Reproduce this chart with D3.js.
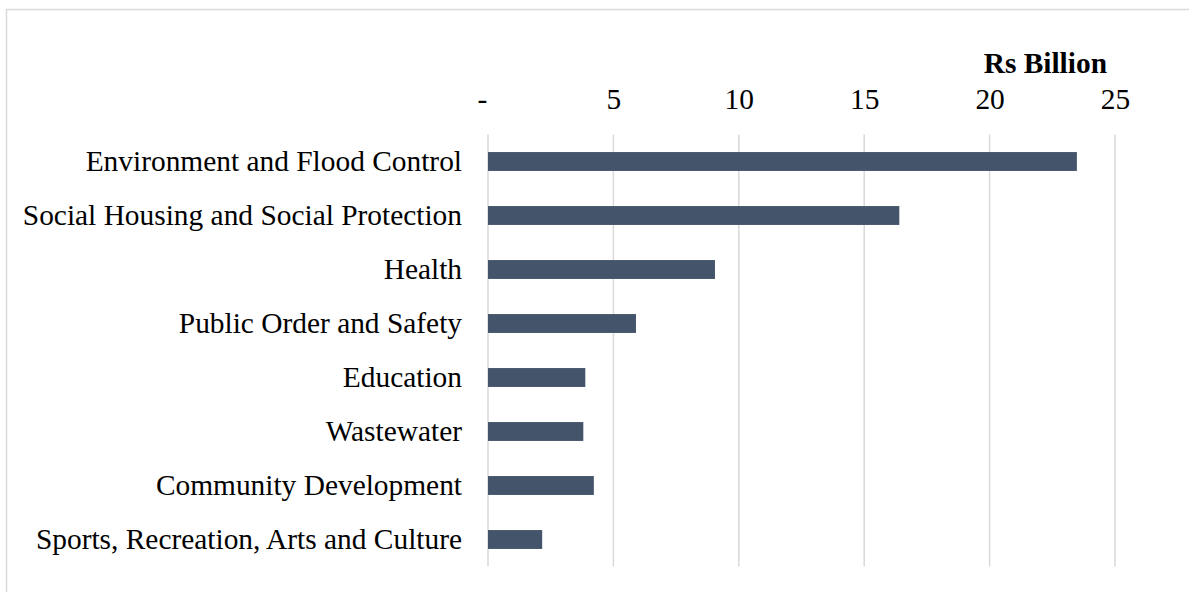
<!DOCTYPE html>
<html>
<head>
<meta charset="utf-8">
<script src="https://cdn.jsdelivr.net/npm/d3@7"></script>
<style>
  html, body { margin: 0; padding: 0; background: #fff; }
  svg { display: block; }
  text { font-family: "Liberation Serif", "Times New Roman", serif; fill: #000; }
</style>
</head>
<body>
<svg id="chart" width="1189" height="592"></svg>
<script>
const categories = [
  "Environment and Flood Control",
  "Social Housing and Social Protection",
  "Health",
  "Public Order and Safety",
  "Education",
  "Wastewater",
  "Community Development",
  "Sports, Recreation, Arts and Culture"
];
const values = [23.48, 16.4, 9.05, 5.9, 3.88, 3.8, 4.22, 2.16];
const tickValues = [0, 5, 10, 15, 20, 25];
const tickLabels = ["-", "5", "10", "15", "20", "25"];
const unitLabel = "Rs Billion";

const svg = d3.select("#chart");

// chart border
svg.append("rect")
  .attr("x", 6.5).attr("y", 9.5)
  .attr("width", 1200).attr("height", 600)
  .attr("fill", "none").attr("stroke", "#d9d9d9").attr("stroke-width", 1.5);

const x = d3.scaleLinear().domain([0, 25]).range([488, 1115]);
const y = d3.scaleBand().domain(categories).range([134.5, 566.5])
  .paddingInner(0.65).paddingOuter(0.325);

// gridlines
svg.append("g").selectAll("line").data(tickValues).join("line")
  .attr("x1", d => x(d)).attr("x2", d => x(d))
  .attr("y1", 134.5).attr("y2", 566.5)
  .attr("stroke", "#d9d9d9").attr("stroke-width", 1.5);

// top axis labels
const xAxis = d3.axisTop(x).tickValues(tickValues)
  .tickFormat((d, i) => tickLabels[i]).tickSize(0).tickPadding(0);
const gx = svg.append("g").attr("transform", "translate(0,109)").call(xAxis);
gx.select(".domain").remove();
gx.selectAll("text")
  .attr("y", 0).attr("dy", 0)
  .style("font-family", '"Liberation Serif", "Times New Roman", serif')
  .style("font-size", "29.4px")
  .attr("fill", "#000")
  .attr("dx", d => d === 0 ? -6 : 0);

// unit label
svg.append("text")
  .attr("x", 1107).attr("y", 73)
  .attr("text-anchor", "end")
  .style("font-size", "29.4px").style("font-weight", "bold")
  .text(unitLabel);

// bars
svg.append("g").selectAll("rect").data(categories).join("rect")
  .attr("x", x(0))
  .attr("y", d => y(d))
  .attr("width", (d, i) => x(values[i]) - x(0))
  .attr("height", y.bandwidth())
  .attr("fill", "#44546a");

// category labels
const yAxis = d3.axisLeft(y).tickSize(0).tickPadding(0);
const gy = svg.append("g").attr("transform", "translate(462,0)").call(yAxis);
gy.select(".domain").remove();
gy.selectAll("text")
  .attr("x", 0).attr("dy", "0.33em")
  .style("font-family", '"Liberation Serif", "Times New Roman", serif')
  .style("font-size", "29.4px")
  .attr("fill", "#000");
</script>
</body>
</html>
